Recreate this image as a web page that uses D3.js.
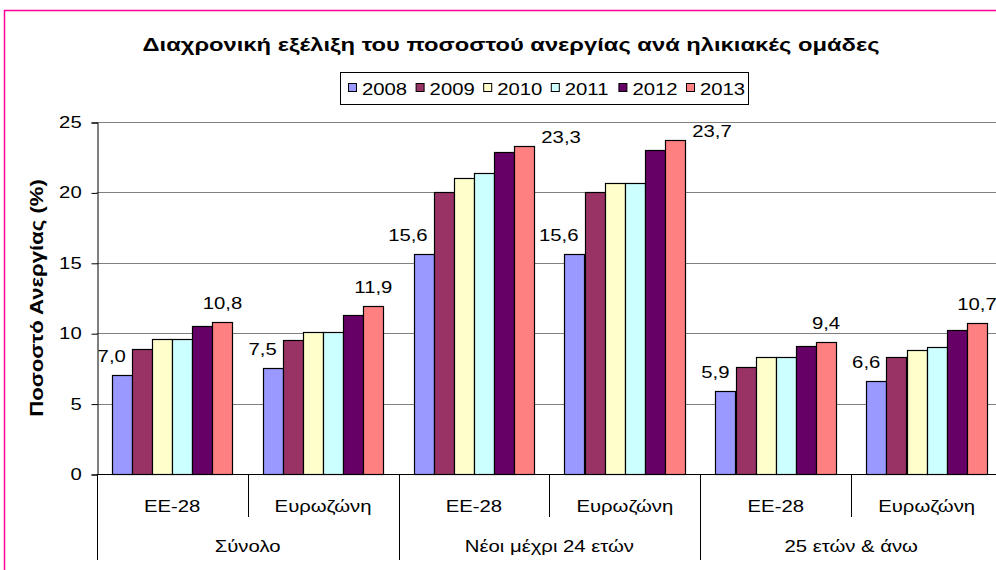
<!DOCTYPE html>
<html lang="el">
<head>
<meta charset="utf-8">
<title>Ποσοστό ανεργίας</title>
<script src="https://d3js.org/d3.v7.min.js"></script>
<style>
  html, body { margin:0; padding:0; background:#fff; overflow:hidden; }
  svg { display:block; font-family:"Liberation Sans", Arial, sans-serif; }
</style>
</head>
<body>
<svg width="996" height="570"></svg>
<script>
// data
var years = ["2008", "2009", "2010", "2011", "2012", "2013"];
var groups = ["Σύνολο", "Νέοι μέχρι 24 ετών", "25 ετών & άνω"];
var areas = ["ΕΕ-28", "Ευρωζώνη"];
var v2008 = [7.0, 7.5, 15.6, 15.6, 5.9, 6.6];
var v2009 = [8.9, 9.5, 20.0, 20.0, 7.6, 8.3];
var v2010 = [9.6, 10.1, 21.0, 20.7, 8.3, 8.8];
var v2011 = [9.6, 10.1, 21.4, 20.7, 8.3, 9.0];
var v2012 = [10.5, 11.3, 22.9, 23.0, 9.1, 10.2];
var v2013 = [10.8, 11.9, 23.3, 23.7, 9.4, 10.7];
var yTicks = [0, 5, 10, 15, 20, 25];
var colors = ["#9999ff", "#993366", "#ffffcc", "#ccffff", "#660066", "#ff8080"];

var series = [v2008, v2009, v2010, v2011, v2012, v2013];
var cats = [];
groups.forEach(function (g) { areas.forEach(function (a) { cats.push(g + "|" + a); }); });

var svg = d3.select("svg");
var stretch = 1.27; // the original picture is widened horizontally

// text with the widened glyphs
function label(sel, x, y, s, anchor, size, bold) {
    return sel.append("text")
        .attr("transform", "translate(" + x + "," + y + ") scale(" + stretch + ",1)")
        .attr("text-anchor", anchor || "middle")
        .attr("font-size", size || 16)
        .attr("font-weight", bold ? "bold" : null)
        .text(s);
}

// pink frame
svg.append("rect")
    .attr("x", 4.5).attr("y", 10.5)
    .attr("width", 1100).attr("height", 700)
    .attr("fill", "none").attr("stroke", "#ff0099").attr("stroke-width", 1.5);

var plotLeft = 96.7, plotTop = 122, plotBottom = 474;
var x0 = d3.scaleBand().domain(cats).range([plotLeft, plotLeft + 6 * 150.9]);
var x1 = d3.scaleBand().domain(years).range([0, x0.bandwidth()]).paddingOuter(0.75);
var y = d3.scaleLinear().domain([0, 25]).range([plotBottom, plotTop]);

// gridlines
svg.append("g").selectAll("line").data(yTicks.slice(1)).enter().append("line")
    .attr("x1", plotLeft).attr("x2", 996)
    .attr("y1", function (d) { return Math.round(y(d)) + 0.5; })
    .attr("y2", function (d) { return Math.round(y(d)) + 0.5; })
    .attr("stroke", "#808080").attr("stroke-width", 1);

// y axis
var yAxis = svg.append("g")
    .attr("transform", "translate(" + (Math.round(plotLeft) + 0.5) + ",0.5)")
    .call(d3.axisLeft(y).tickValues(yTicks).tickSize(6).tickPadding(0).tickFormat(""));
yAxis.select(".domain").attr("stroke", "#000");
yAxis.selectAll(".tick line").attr("stroke", "#000");
yTicks.forEach(function (t) {
    label(svg, plotLeft - 15, y(t) + 6, String(t), "end", 16);
});

svg.append("text")
    .attr("transform", "translate(43," + ((plotTop + plotBottom) / 2) + ") rotate(-90) scale(1.23,1)")
    .attr("text-anchor", "middle")
    .attr("font-size", 18).attr("font-weight", "bold")
    .text("Ποσοστό Ανεργίας (%)");

// bars
var bars = svg.append("g");
series.forEach(function (vals, si) {
    bars.selectAll(".s" + si).data(vals).enter().append("rect")
        .attr("class", "s" + si)
        .attr("x", function (d, i) { return Math.round(x0(cats[i]) + x1(years[si])) + 0.5; })
        .attr("y", function (d) { return Math.round(y(d)) + 0.5; })
        .attr("width", Math.round(x1.bandwidth()))
        .attr("height", function (d) { return Math.round(plotBottom) - Math.round(y(d)); })
        .attr("fill", colors[si])
        .attr("stroke", "#000").attr("stroke-width", 1.2);
});

// data labels for 2008 and 2013
var fmt = function (d) { return d.toFixed(1).replace(".", ","); };
var dl = svg.append("g");
v2008.forEach(function (d, i) {
    label(dl, x0(cats[i]) + x1("2008") + x1.bandwidth() / 2 + 4, y(d) - 13, fmt(d), "end", 16);
});
v2013.forEach(function (d, i) {
    var bx = x0(cats[i]) + x1("2013");
    if (y(d) - 30 < plotTop) {
        label(dl, bx + x1.bandwidth() + 7, y(d) - 3, fmt(d), "start", 16);
    } else {
        label(dl, bx + x1.bandwidth() / 2, y(d) - 13, fmt(d), "middle", 16);
    }
});

// x axis baseline
svg.append("line")
    .attr("x1", plotLeft).attr("x2", 996)
    .attr("y1", plotBottom + 0.5).attr("y2", plotBottom + 0.5)
    .attr("stroke", "#000");

// category separators and labels
var xa = svg.append("g");
cats.forEach(function (c, i) {
    var bx = Math.round(x0(c)) + 0.5;
    xa.append("line")
        .attr("x1", bx).attr("x2", bx)
        .attr("y1", plotBottom).attr("y2", i % 2 === 0 ? 560 : 517)
        .attr("stroke", "#000");
    label(xa, x0(c) + x0.bandwidth() / 2, 512, c.split("|")[1], "middle", 16);
});
groups.forEach(function (g) {
    var gx = x0(g + "|" + areas[0]);
    label(xa, gx + x0.bandwidth(), 552, g, "middle", 16);
});

// title
label(svg, 511, 51, "Διαχρονική εξέλιξη του ποσοστού ανεργίας ανά ηλικιακές ομάδες", "middle", 18.7, true);

// legend
var lg = svg.append("g");
lg.append("rect")
    .attr("x", 340.5).attr("y", 72.5).attr("width", 408).attr("height", 32)
    .attr("fill", "#fff").attr("stroke", "#000");
var lx = d3.scalePoint().domain(years).range([348, 348 + 5 * 67.6]);
years.forEach(function (yr, i) {
    lg.append("rect")
        .attr("x", lx(yr) + 0.5).attr("y", 83.5).attr("width", 8).attr("height", 8)
        .attr("fill", colors[i]).attr("stroke", "#000");
    label(lg, lx(yr) + 14, 95, yr, "start", 16);
});
</script>
</body>
</html>
